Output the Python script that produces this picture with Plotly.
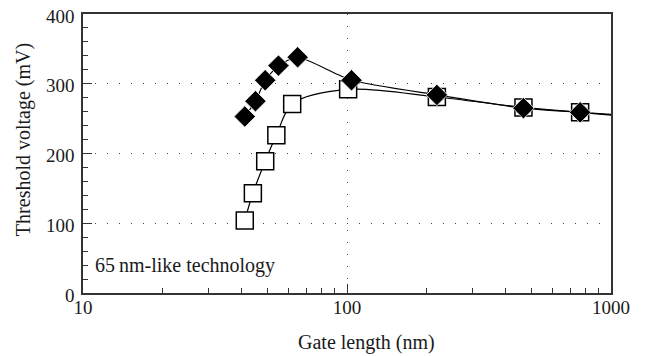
import plotly.graph_objects as go

# Threshold voltage vs. gate length, 65 nm-like technology
halo_len = [41, 45, 49, 55, 65, 104, 219, 466, 764]
halo_vth = [253, 275, 305, 326, 338, 305, 284, 265, 259]

plain_len = [41, 44, 49, 54, 62, 101, 219, 466, 764]
plain_vth = [104, 143, 189, 226, 271, 292, 281, 266, 259]

# long-channel end of the fitted curves
tail_len = 1000
halo_tail_vth = 256
plain_tail_vth = 255

x_major = [10, 100, 1000]
x_minor = [20, 30, 40, 50, 60, 70, 80, 90, 200, 300, 400, 500, 600, 700, 800, 900]
y_major = [0, 100, 200, 300, 400]

FONT = "Liberation Serif"
INK = "#1a1a1a"

fig = go.Figure()

fig.add_trace(go.Scatter(
    x=plain_len + [tail_len], y=plain_vth + [plain_tail_vth],
    mode="lines", line=dict(color="black", width=1.2, shape="spline", smoothing=0.9),
    hoverinfo="skip", showlegend=False))
fig.add_trace(go.Scatter(
    x=halo_len + [tail_len], y=halo_vth + [halo_tail_vth],
    mode="lines", line=dict(color="black", width=1.2, shape="spline", smoothing=0.6),
    hoverinfo="skip", showlegend=False))

fig.add_trace(go.Scatter(
    x=plain_len, y=plain_vth, mode="markers",
    marker=dict(symbol="square", size=17, color="white",
                line=dict(color="black", width=1.5)),
    showlegend=False))
fig.add_trace(go.Scatter(
    x=halo_len, y=halo_vth, mode="markers",
    marker=dict(symbol="diamond", size=16.5, color="black",
                line=dict(color="white", width=0.8)),
    showlegend=False))

axis_common = dict(
    showline=True, linecolor="#333333", linewidth=1.5, mirror=True,
    ticks="inside", tickcolor="#333333", tickwidth=1.2,
    showgrid=True, gridcolor="#444444", gridwidth=1, griddash="1px,11px",
    zeroline=False, automargin=False,
    tickfont=dict(family=FONT, size=19, color=INK),
)

fig.update_xaxes(
    type="log", range=[1, 3], tickvals=x_major, ticktext=[str(v) for v in x_major],
    ticklen=9, ticklabelstandoff=-4,
    minor=dict(tickvals=x_minor, ticks="inside", ticklen=5,
               tickcolor="#333333", tickwidth=1.2, showgrid=False),
    **axis_common)
fig.update_yaxes(
    range=[0, 400], tickvals=y_major, ticklen=9,
    ticklabelstandoff=3, ticklabelshift=2,
    minor=dict(dtick=20, ticks="inside", ticklen=5,
               tickcolor="#333333", tickwidth=1.2, showgrid=False),
    **axis_common)

fig.add_annotation(text="Gate length (nm)", xref="paper", yref="paper",
                   x=0.537, y=-0.176, xanchor="center", yanchor="middle",
                   showarrow=False, font=dict(family=FONT, size=20, color=INK))
fig.add_annotation(text="Threshold voltage (mV)", xref="paper", yref="paper",
                   x=-0.1136, y=0.548, xanchor="center", yanchor="middle",
                   textangle=-90, showarrow=False,
                   font=dict(family=FONT, size=20, color=INK))
fig.add_annotation(text="65\u2009nm-like technology", xref="paper", yref="paper",
                   x=0.019, y=0.097, xanchor="left", yanchor="middle",
                   showarrow=False, font=dict(family=FONT, size=20, color=INK))

fig.update_layout(
    width=646, height=356,
    margin=dict(l=83, r=35, t=14, b=63, autoexpand=False),
    paper_bgcolor="white", plot_bgcolor="white",
)

fig.write_html("out.html")
